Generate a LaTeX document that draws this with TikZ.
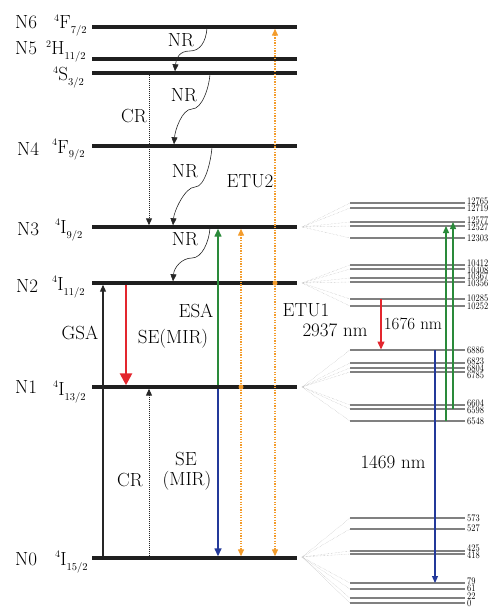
\documentclass[tikz,border=0pt]{standalone}
\usepackage{fontspec}
\usetikzlibrary{arrows.meta,calc}
\definecolor{cred}{HTML}{E3262E}
\definecolor{cgreen}{HTML}{2A8A3A}
\definecolor{cblue}{HTML}{23399A}
\definecolor{corange}{HTML}{F39C2C}
\newcommand{\trm}[3]{\raisebox{7.5pt}{\fontsize{10}{10}\selectfont #1}\kern0.2pt#2\raisebox{-5pt}{\fontsize{10.5}{10.5}\selectfont #3}}
\tikzset{
  lvl/.style={line width=3.4pt, color=black!88},
  sublvl/.style={line width=1.1pt, color=black!50},
  fanline/.style={line width=0.4pt, color=black!30, densely dotted},
  lbl/.style={font=\fontsize{19}{19}\selectfont, inner sep=0pt},
  lvlname/.style={lbl, anchor=base west},
  num/.style={font=\fontsize{10}{10}\selectfont, inner sep=0pt, anchor=west},
  tipsmall/.style={-{Triangle[length=7pt,width=6pt]}},
  nrarrow/.style={black!85, line width=0.6pt, tipsmall},
  crarrow/.style={black!85, line width=1pt, dash pattern=on 1pt off 1pt, tipsmall},
  gsa/.style={black!85, line width=1.1pt, tipsmall},
  sered/.style={cred, line width=2.6pt, -{Triangle[length=12pt,width=12pt]}},
  esa/.style={cgreen, line width=1.4pt, -{Triangle[length=8pt,width=7pt]}},
  seblue/.style={cblue, line width=1.4pt, -{Triangle[length=8pt,width=7pt]}},
  etu/.style={corange, line width=1.3pt, dash pattern=on 1.3pt off 1.3pt, -{Triangle[length=7pt,width=6pt]}},
  etudot/.style={circle, fill=corange, inner sep=0pt, minimum size=5pt},
}
\begin{document}
\begin{tikzpicture}[x=1pt,y=-1pt]
\useasboundingbox (0,0) rectangle (494,607);
% level coordinates (left end) and right end x
\coordinate (N6) at (92,27);
\coordinate (N5) at (92,59);
\coordinate (S32) at (92,73);
\coordinate (N4) at (92,146);
\coordinate (N3) at (92,227);
\coordinate (N2) at (92,283);
\coordinate (N1) at (92,387);
\coordinate (N0) at (92,558);
\coordinate (R) at (297,0);
\foreach \l in {N6,N5,S32,N4,N3,N2,N1,N0}{
  \draw[lvl] (\l) -- (\l -| R);
}
% level names
\node[lvlname] (nN6) at (15,29) {N6};
\node[lvlname] (nN5) at (15,55) {N5};
\node[lvlname] (nN4) at (17,155) {N4};
\node[lvlname] (nN3) at (17,235) {N3};
\node[lvlname] (nN2) at (16,292) {N2};
\node[lvlname] (nN1) at (15,393) {N1};
\node[lvlname] (nN0) at (15,565) {N0};
% term symbols
\node[lvlname] (tN6) at (54,29) {\trm{4}{F}{7/2}};
\node[lvlname] (tN5) at (46,55) {\trm{2}{H}{11/2}};
\node[lvlname] (tS32) at (53,81) {\trm{4}{S}{3/2}};
\node[lvlname] (tN4) at (52,153) {\trm{4}{F}{9/2}};
\node[lvlname] (tN3) at (55,233) {\trm{4}{I}{9/2}};
\node[lvlname] (tN2) at (52,290) {\trm{4}{I}{11/2}};
\node[lvlname] (tN1) at (53,395) {\trm{4}{I}{13/2}};
\node[lvlname] (tN0) at (55,565) {\trm{4}{I}{15/2}};
% x positions of transitions
\coordinate (xGSA) at (103,0);
\coordinate (xRed) at (126,0);
\coordinate (xCR) at (149,0);
\coordinate (xGB) at (218,0);
\coordinate (xO1) at (241,0);
\coordinate (xO2) at (275,0);
% NR wavy arrows
\coordinate (a1) at (207,28); \coordinate (m1) at (190,51); \coordinate (b1) at (175,71.3);
\coordinate (a2) at (210,74); \coordinate (m2) at (192,109); \coordinate (b2) at (174,144.3);
\coordinate (a3) at (212,147); \coordinate (m3) at (195,187); \coordinate (b3) at (173,225.3);
\coordinate (a4) at (210,228); \coordinate (m4) at (192,258); \coordinate (b4) at (173,281.3);
\foreach \i in {1,2,3,4}{
  \draw[nrarrow] (a\i) .. controls ($(a\i)+(-1,14)$) and ($(m\i)+(10,0)$) .. (m\i)
     .. controls ($(m\i)+(-10,0)$) and ($(b\i)+(1,-14)$) .. (b\i);
}
\node[lbl] (nr1) at (181,40) {NR};
\node[lbl] (nr2) at (184,95) {NR};
\node[lbl] (nr3) at (185,171) {NR};
\node[lbl] (nr4) at (185,239) {NR};
% CR
\draw[crarrow, shorten <=1.7pt, shorten >=1.7pt] (xCR |- S32) -- (xCR |- N3);
\node[lbl] (cr1) at (134,116) {CR};
\draw[crarrow, shorten <=1.7pt, shorten >=1.7pt] (xCR |- N0) -- (xCR |- N1);
\node[lbl] (cr2) at (130,480) {CR};
% GSA
\draw[gsa, shorten <=1.7pt, shorten >=1.7pt] (xGSA |- N0) -- (xGSA |- N2);
\node[lbl] (gsa) at (80,333) {GSA};
% SE red
\draw[sered, shorten <=1.7pt, shorten >=1.7pt] (xRed |- N2) -- (xRed |- N1);
\node[lbl] (se1) at (173,339) {SE(MIR)};
% ESA green and SE blue
\draw[esa, shorten <=1.7pt, shorten >=1.7pt] (xGB |- N1) -- (xGB |- N3);
\node[lbl] (esa) at (196,311) {ESA};
\draw[seblue, shorten <=1.7pt, shorten >=1.7pt] (xGB |- N1) -- (xGB |- N0);
\node[lbl] (se2a) at (186,459) {SE};
\node[lbl] (se2b) at (187,481) {(MIR)};
% ETU orange
\node[etudot] (d1) at (xO1 |- N1) {};
\node[etudot] (d2) at (xO2 |- N2) {};
\draw[etu, shorten >=1.7pt] (d1) -- (xO1 |- N3);
\draw[etu, shorten >=1.7pt] (d1) -- (xO1 |- N0);
\draw[etu, shorten >=1.7pt] (d2) -- (xO2 |- N6);
\draw[etu, shorten >=1.7pt] (d2) -- (xO2 |- N0);
\node[lbl] (etu2) at (250,181) {ETU2};
\node[lbl] (etu1) at (306,310) {ETU1};
% Stark sublevels: fan origin / line y / label y / energy
\coordinate (F3) at (302,227);
\coordinate (F2) at (302,283);
\coordinate (F1) at (302,387);
\coordinate (F0) at (302,557);
\foreach \f/\y/\ly/\t in {F3/203/201.2/12765,F3/208/208.3/12719,F3/222/220.3/12577,F3/226/227.4/12527,F3/238/238/12303,
  F2/265/263.2/10412,F2/269/270.3/10408,F2/278/276.6/10367,F2/282/283.7/10356,F2/299/298.5/10285,F2/306/305.8/10252,
  F1/350/350/6886,F1/363/361/6823,F1/368/368.1/6804,F1/372/375.2/6785,F1/405/403/6604,F1/409/410.1/6598,F1/421/421/6548,
  F0/518/518/573,F0/529/528.5/527,F0/551/548.6/425,F0/554/555.7/418,F0/583/581.5/79,F0/589/588.6/61,F0/598/596.5/22,F0/603/603.3/0}{
  \coordinate (s\t) at (350,\y);
  \draw[fanline] (\f) -- (s\t);
  \draw[sublvl] (s\t) -- ++(115,0) coordinate (e\t);
  \node[num] (n\t) at ($(e\t |- 0,\ly)+(2,0)$) {\scalebox{0.84}[1]{\t}};
}
% right transitions
\coordinate (xr) at (381,0);
\coordinate (xg1) at (446,0);
\coordinate (xg2) at (453,0);
\coordinate (xb) at (435,0);
\draw[sered, line width=1.4pt, -{Triangle[length=8pt,width=7pt]}, shorten >=0.5pt] (xr |- s10285) -- (xr |- s6886);
\draw[esa, line width=1.3pt, -{Triangle[length=7pt,width=6pt]}] (xg1 |- s6548) -- (xg1 |- s12527);
\draw[esa, line width=1.3pt, -{Triangle[length=7pt,width=6pt]}] (xg2 |- s6598) -- (xg2 |- s12577);
\draw[seblue, line width=1.2pt, -{Triangle[length=7pt,width=6pt]}] (xb |- s6886) -- (xb |- s79);
\node[lbl] (w1) at (335,330) {2937 nm};
\node[lbl, font=\fontsize{17}{17}\selectfont] (w2) at (413,324) {1676 nm};
\node[lbl] (w3) at (393,462) {1469 nm};
\end{tikzpicture}
\end{document}
